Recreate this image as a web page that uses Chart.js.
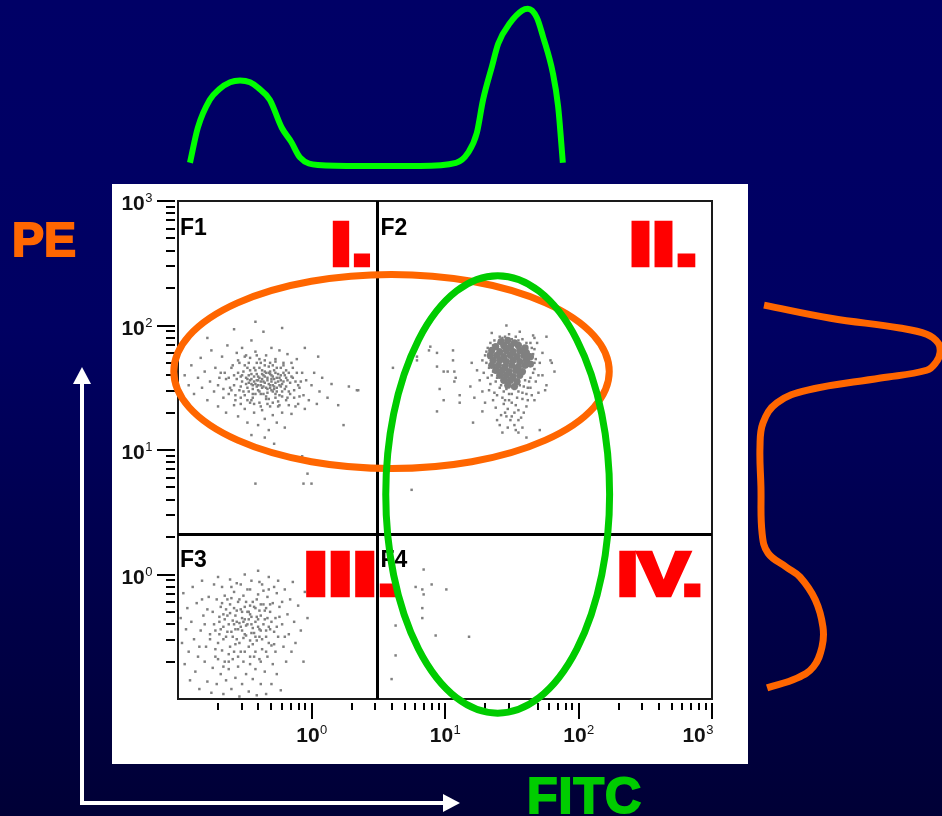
<!DOCTYPE html>
<html>
<head>
<meta charset="utf-8">
<script src="https://cdn.jsdelivr.net/npm/chart.js@4.4.1/dist/chart.umd.min.js"></script>
<style>
  html, body { margin: 0; padding: 0; }
  body {
    width: 942px; height: 816px; overflow: hidden; position: relative;
    background: linear-gradient(to bottom, #000066 0%, #000062 40%, #000036 100%);
    font-family: "Liberation Sans", Arial, sans-serif;
  }
  canvas { position: absolute; }
  #main { left: 112px; top: 184px; background: #fff; }
  #topHist { left: 178px; top: 0; }
  #sideHist { left: 750px; top: 201px; }
  .axisName { position: absolute; font-weight: bold; line-height: 1; white-space: nowrap; }
  #pe { left: 12px; top: 216px; font-size: 48px; color: #ff6600; -webkit-text-stroke: 2px #ff6600; }
  #fitc { left: 527px; top: 771px; font-size: 50px; color: #00cc00; -webkit-text-stroke: 2px #00cc00; letter-spacing: 1px; }
  svg { position: absolute; left: 0; top: 0; }
</style>
</head>
<body>
<canvas id="topHist" width="534" height="175"></canvas>
<canvas id="sideHist" width="192" height="498"></canvas>
<canvas id="main" width="636" height="580"></canvas>
<svg width="942" height="816">
  <path d="M82 382 V803 H445" stroke="#fff" stroke-width="4" fill="none"/>
  <polygon points="82,367 73,384 91,384" fill="#fff"/>
  <polygon points="460,803 443,794 443,812" fill="#fff"/>
</svg>
<div id="pe" class="axisName">PE</div>
<div id="fitc" class="axisName">FITC</div>

<script>
// scatter events, as [log10 FITC, log10 PE]
const f1Core = [[-0.55,1.62],[-0.52,1.55],[-0.50,1.68],[-0.48,1.50],[-0.47,1.60],[-0.45,1.57],[-0.44,1.45],[-0.43,1.66],[-0.42,1.53],[-0.41,1.61],[-0.40,1.48],[-0.39,1.58],[-0.38,1.55],[-0.37,1.64],[-0.36,1.51],[-0.35,1.59],[-0.34,1.43],[-0.33,1.56],[-0.32,1.67],[-0.31,1.52],[-0.30,1.60],[-0.29,1.47],[-0.28,1.57],[-0.27,1.62],[-0.26,1.50],[-0.25,1.55],[-0.24,1.44],[-0.23,1.60],[-0.22,1.53],[-0.20,1.49],[-0.19,1.58],[-0.18,1.42],[-0.16,1.54],[-0.58,1.52],[-0.57,1.44],[-0.54,1.70],[-0.51,1.47],[-0.49,1.58],[-0.46,1.64],[-0.44,1.52],[-0.41,1.70],[-0.40,1.56],[-0.38,1.45],[-0.36,1.60],[-0.35,1.68],[-0.33,1.49],[-0.31,1.63],[-0.30,1.55],[-0.28,1.51],[-0.27,1.45],[-0.26,1.66],[-0.24,1.58],[-0.22,1.47],[-0.21,1.62],[-0.45,1.40],[-0.39,1.38],[-0.32,1.41],[-0.25,1.39],[-0.62,1.58],[-0.60,1.48],[-0.53,1.59],[-0.47,1.54],[-0.43,1.59],[-0.37,1.50],[-0.34,1.62],[-0.29,1.59],[-0.23,1.51],[-0.19,1.64],[-0.17,1.47],[-0.15,1.59]];
const f1Inner = [[-0.53,1.51],[-0.51,1.63],[-0.50,1.44],[-0.49,1.53],[-0.48,1.66],[-0.47,1.47],[-0.46,1.56],[-0.45,1.61],[-0.44,1.49],[-0.43,1.55],[-0.42,1.64],[-0.42,1.45],[-0.41,1.51],[-0.40,1.59],[-0.39,1.66],[-0.39,1.47],[-0.38,1.52],[-0.37,1.57],[-0.36,1.45],[-0.36,1.55],[-0.35,1.63],[-0.34,1.50],[-0.33,1.58],[-0.33,1.46],[-0.32,1.53],[-0.31,1.61],[-0.30,1.48],[-0.30,1.57],[-0.29,1.52],[-0.28,1.64],[-0.27,1.54],[-0.26,1.47],[-0.25,1.61],[-0.24,1.52],[-0.23,1.56],[-0.22,1.43],[-0.21,1.55],[-0.20,1.60],[-0.19,1.51],[-0.18,1.56],[-0.56,1.57],[-0.54,1.48],[-0.52,1.60],[-0.47,1.70],[-0.44,1.42],[-0.38,1.70],[-0.34,1.41],[-0.29,1.68],[-0.27,1.42],[-0.23,1.66],[-0.35,1.54],[-0.41,1.56],[-0.31,1.50],[-0.45,1.53],[-0.26,1.58],[-0.48,1.57],[-0.40,1.52],[-0.32,1.62],[-0.37,1.61],[-0.28,1.49]];
const f1Mid = [[-0.70,1.52],[-0.68,1.62],[-0.66,1.49],[-0.64,1.57],[-0.62,1.45],[-0.60,1.66],[-0.58,1.60],[-0.57,1.40],[-0.55,1.72],[-0.53,1.37],[-0.50,1.75],[-0.48,1.40],[-0.46,1.74],[-0.43,1.37],[-0.41,1.76],[-0.38,1.35],[-0.35,1.72],[-0.33,1.37],[-0.31,1.70],[-0.29,1.38],[-0.27,1.71],[-0.24,1.36],[-0.21,1.68],[-0.19,1.40],[-0.17,1.62],[-0.16,1.45],[-0.14,1.58],[-0.13,1.48],[-0.11,1.62],[-0.09,1.43],[-0.08,1.55],[-0.10,1.52],[-0.12,1.35],[-0.15,1.70]];
const f1Sparse = [[-0.95,1.60],[-0.92,1.52],[-0.90,1.68],[-0.88,1.45],[-0.85,1.58],[-0.83,1.74],[-0.82,1.50],[-0.80,1.63],[-0.78,1.40],[-0.76,1.55],[-0.75,1.80],[-0.73,1.47],[-0.72,1.66],[-0.70,1.35],[-0.69,1.58],[-0.67,1.75],[-0.66,1.42],[-0.65,1.62],[-0.64,1.30],[-0.63,1.84],[-0.61,1.50],[-0.59,1.68],[-0.58,1.36],[-0.56,1.78],[-0.55,1.27],[-0.53,1.42],[-0.52,1.82],[-0.50,1.33],[-0.49,1.76],[-0.48,1.22],[-0.46,1.38],[-0.45,1.88],[-0.43,1.30],[-0.42,1.79],[-0.40,1.20],[-0.39,1.73],[-0.37,1.32],[-0.36,1.95],[-0.35,1.25],[-0.34,1.76],[-0.32,1.16],[-0.31,1.35],[-0.30,1.82],[-0.29,1.28],[-0.27,1.73],[-0.26,1.22],[-0.25,1.35],[-0.24,1.80],[-0.22,1.30],[-0.21,1.70],[-0.20,1.18],[-0.18,1.77],[-0.17,1.36],[-0.15,1.29],[-0.14,1.66],[-0.13,1.42],[-0.12,1.55],[-0.11,1.73],[-0.10,1.37],[-0.09,1.50],[-0.07,1.62],[-0.06,1.44],[-0.05,1.33],[-0.04,1.56],[-0.02,1.40],[0.00,1.52],[0.02,1.62],[0.04,1.37],[0.06,1.47],[0.08,1.58],[0.12,1.42],[0.15,1.53],[0.20,1.36],[0.28,1.51],[0.34,1.48],[-0.58,1.97],[-0.42,2.03],[-0.22,1.98],[-0.05,1.82],[0.05,1.75],[-0.78,1.90],[-0.35,1.10],[-0.28,1.05],[-0.45,1.12],[-0.42,0.73],[-0.06,0.73],[0.00,0.73],[-0.03,0.81],[-0.07,0.95],[0.24,1.20],[0.35,1.48]];
const f2Core = [[1.42,1.87],[1.47,1.88],[1.52,1.86],[1.38,1.83],[1.44,1.84],[1.49,1.83],[1.55,1.84],[1.60,1.82],[1.35,1.80],[1.41,1.79],[1.46,1.80],[1.51,1.79],[1.56,1.80],[1.61,1.78],[1.34,1.76],[1.39,1.76],[1.44,1.75],[1.49,1.76],[1.54,1.75],[1.59,1.76],[1.64,1.75],[1.36,1.72],[1.41,1.72],[1.46,1.71],[1.51,1.72],[1.56,1.71],[1.61,1.72],[1.35,1.68],[1.40,1.68],[1.45,1.67],[1.50,1.68],[1.55,1.67],[1.60,1.68],[1.64,1.69],[1.38,1.64],[1.43,1.64],[1.48,1.63],[1.53,1.64],[1.58,1.63],[1.41,1.60],[1.46,1.60],[1.51,1.59],[1.56,1.60],[1.44,1.56],[1.49,1.56],[1.54,1.55],[1.47,1.52],[1.52,1.51]];
const f2Ring = [[1.33,1.74],[1.31,1.79],[1.36,1.84],[1.40,1.86],[1.45,1.91],[1.50,1.89],[1.55,1.88],[1.61,1.86],[1.65,1.82],[1.66,1.77],[1.67,1.70],[1.66,1.62],[1.63,1.55],[1.59,1.51],[1.55,1.47],[1.50,1.45],[1.46,1.49],[1.42,1.52],[1.39,1.58],[1.36,1.63],[1.32,1.58],[1.33,1.48],[1.37,1.46],[1.43,1.42],[1.48,1.40],[1.53,1.36],[1.58,1.41],[1.61,1.45],[1.64,1.50],[1.68,1.55],[1.45,1.30],[1.50,1.27],[1.55,1.24],[1.59,1.30],[1.42,1.28],[1.38,1.34],[1.47,1.18],[1.53,1.16]];
const f2Sparse = [[1.46,2.00],[1.35,1.94],[1.76,1.91],[1.67,1.90],[1.80,1.70],[1.82,1.63],[1.73,1.60],[1.76,1.52],[1.70,1.46],[1.67,1.40],[1.61,1.35],[1.55,1.32],[1.46,1.27],[1.41,1.20],[1.52,1.20],[1.58,1.18],[1.61,1.10],[1.43,1.14],[1.39,1.24],[1.28,1.31],[1.30,1.38],[1.28,1.47],[1.26,1.56],[1.28,1.72],[1.20,1.70],[1.24,1.64],[1.22,1.42],[1.19,1.51],[1.11,1.44],[1.11,1.38],[0.99,1.40],[0.96,1.49],[1.07,1.55],[1.07,1.63],[1.02,1.63],[0.99,1.63],[1.06,1.72],[1.06,1.80],[0.94,1.78],[0.94,1.67],[0.89,1.83],[0.79,1.75],[0.79,1.72],[0.94,1.31],[1.21,1.22],[1.71,1.16],[1.55,1.14],[1.66,1.92],[1.41,1.91],[1.56,1.95],[1.73,1.78],[1.79,1.72],[1.75,1.48],[1.32,1.82],[1.30,1.76],[1.33,1.66],[1.35,1.60],[1.38,1.55],[1.41,1.50],[1.44,1.47],[1.48,1.45],[1.52,1.49],[1.56,1.52],[1.60,1.56],[1.64,1.58],[1.67,1.65],[1.68,1.73],[1.67,1.81],[1.64,1.86],[1.58,1.89],[1.53,1.91],[1.48,1.93],[1.43,1.90],[1.37,1.88],[1.34,1.86],[1.31,1.70],[1.29,1.62],[1.34,1.53],[1.39,1.44],[1.45,1.40],[1.50,1.38],[1.54,1.42],[1.58,1.46],[1.62,1.50],[1.65,1.44],[1.47,1.33],[1.52,1.30],[1.49,1.24],[1.57,1.26],[1.44,1.37],[1.36,1.40],[1.62,1.40],[1.70,1.60],[1.71,1.70],[1.69,1.86],[0.61,1.66],[0.88,1.80],[1.08,1.58]];
const f3Dense = [[-0.74,-0.30],[-0.72,-0.45],[-0.71,-0.20],[-0.70,-0.55],[-0.69,-0.38],[-0.68,-0.26],[-0.67,-0.61],[-0.66,-0.42],[-0.65,-0.17],[-0.64,-0.50],[-0.63,-0.33],[-0.62,-0.64],[-0.61,-0.24],[-0.60,-0.46],[-0.59,-0.37],[-0.58,-0.14],[-0.57,-0.56],[-0.56,-0.29],[-0.55,-0.44],[-0.54,-0.20],[-0.53,-0.62],[-0.52,-0.35],[-0.51,-0.51],[-0.50,-0.26],[-0.49,-0.41],[-0.48,-0.12],[-0.47,-0.58],[-0.46,-0.32],[-0.45,-0.47],[-0.44,-0.22],[-0.43,-0.66],[-0.42,-0.38],[-0.41,-0.53],[-0.40,-0.16],[-0.39,-0.29],[-0.38,-0.45],[-0.37,-0.60],[-0.36,-0.24],[-0.35,-0.36],[-0.34,-0.50],[-0.33,-0.18],[-0.32,-0.42],[-0.31,-0.30],[-0.30,-0.57],[-0.29,-0.23],[-0.28,-0.46],[-0.27,-0.35],[-0.26,-0.15],[-0.73,-0.40],[-0.69,-0.48],[-0.66,-0.32],[-0.63,-0.20],[-0.61,-0.58],[-0.58,-0.40],[-0.56,-0.52],[-0.53,-0.28],[-0.51,-0.17],[-0.49,-0.49],[-0.47,-0.36],[-0.44,-0.56],[-0.42,-0.27],[-0.40,-0.42],[-0.38,-0.33],[-0.36,-0.13],[-0.34,-0.27],[-0.31,-0.44],[-0.57,-0.33],[-0.54,-0.39],[-0.52,-0.45],[-0.48,-0.30],[-0.45,-0.40],[-0.43,-0.47],[-0.41,-0.34],[-0.39,-0.50],[-0.46,-0.25],[-0.50,-0.36]];
const f3Inner = [[-0.69,-0.34],[-0.68,-0.44],[-0.67,-0.23],[-0.66,-0.52],[-0.65,-0.36],[-0.64,-0.28],[-0.63,-0.46],[-0.62,-0.40],[-0.61,-0.31],[-0.60,-0.19],[-0.59,-0.50],[-0.58,-0.27],[-0.57,-0.44],[-0.56,-0.38],[-0.55,-0.22],[-0.54,-0.55],[-0.53,-0.42],[-0.52,-0.30],[-0.51,-0.38],[-0.50,-0.48],[-0.49,-0.22],[-0.48,-0.40],[-0.47,-0.30],[-0.46,-0.53],[-0.45,-0.34],[-0.44,-0.43],[-0.43,-0.26],[-0.42,-0.50],[-0.41,-0.20],[-0.40,-0.36],[-0.39,-0.44],[-0.38,-0.24],[-0.37,-0.52],[-0.36,-0.40],[-0.35,-0.29],[-0.34,-0.45],[-0.33,-0.35],[-0.32,-0.55],[-0.31,-0.24],[-0.30,-0.38],[-0.72,-0.60],[-0.70,-0.68],[-0.66,-0.74],[-0.62,-0.70],[-0.58,-0.62],[-0.55,-0.66],[-0.50,-0.62],[-0.46,-0.66],[-0.42,-0.62],[-0.38,-0.70],[-0.34,-0.62],[-0.80,-0.40],[-0.78,-0.28],[-0.76,-0.52],[-0.84,-0.58],[-0.82,-0.20],[-0.26,-0.42],[-0.24,-0.34],[-0.22,-0.22],[-0.20,-0.50],[-0.28,-0.56],[-0.60,-0.10],[-0.53,-0.08],[-0.46,-0.12],[-0.39,-0.06],[-0.32,-0.12],[-0.25,-0.05]];
const f3Sparse = [[-0.98,-0.35],[-0.97,-0.55],[-0.96,-0.15],[-0.95,-0.72],[-0.94,-0.44],[-0.93,-0.27],[-0.92,-0.62],[-0.91,-0.85],[-0.90,-0.38],[-0.89,-0.10],[-0.88,-0.52],[-0.87,-0.78],[-0.86,-0.23],[-0.85,-0.66],[-0.84,-0.92],[-0.83,-0.45],[-0.82,-0.05],[-0.81,-0.33],[-0.80,-0.70],[-0.79,-0.58],[-0.78,-0.86],[-0.77,-0.18],[-0.76,-0.48],[-0.75,-0.95],[-0.74,-0.75],[-0.73,-0.08],[-0.72,-0.66],[-0.71,-0.88],[-0.70,-0.02],[-0.68,-0.80],[-0.67,-0.10],[-0.66,-0.96],[-0.65,-0.70],[-0.64,-0.85],[-0.62,-0.76],[-0.61,-0.04],[-0.60,-0.92],[-0.59,-0.68],[-0.57,-0.83],[-0.56,-0.07],[-0.55,-0.74],[-0.54,-0.98],[-0.52,-0.88],[-0.51,-0.70],[-0.50,0.00],[-0.49,-0.80],[-0.47,-0.94],[-0.46,-0.72],[-0.45,-0.05],[-0.44,-0.84],[-0.42,-0.76],[-0.41,-0.97],[-0.40,0.03],[-0.39,-0.68],[-0.38,-0.88],[-0.37,-0.08],[-0.35,-0.78],[-0.34,-0.96],[-0.33,-0.66],[-0.32,-0.02],[-0.30,-0.88],[-0.29,-0.72],[-0.28,-0.10],[-0.27,-0.62],[-0.26,-0.80],[-0.25,-0.50],[-0.24,-0.26],[-0.23,-0.93],[-0.22,-0.40],[-0.21,-0.58],[-0.20,-0.12],[-0.19,-0.70],[-0.18,-0.32],[-0.17,-0.48],[-0.16,-0.20],[-0.15,-0.62],[-0.14,-0.06],[-0.13,-0.38],[-0.12,-0.55],[-0.10,-0.25],[-0.08,-0.45],[-0.06,-0.70],[-0.05,-0.14],[-0.03,-0.35]];
const f4Sparse = [[0.84,0.04],[0.78,-0.10],[0.83,-0.12],[0.90,-0.08],[0.84,-0.16],[1.01,-0.12],[0.83,-0.27],[0.83,-0.35],[0.63,-0.41],[0.93,-0.49],[1.18,-0.50],[0.63,-0.65],[0.60,-0.84],[0.75,0.68]];

// axis range, quadrant markers and gates (FITC, PE values)
const axisMin = 0.1, axisMax = 1000;
const labelledDecades = [1, 10, 100, 1000];
const quadFITC = 3.1, quadPE = 2.1;
const quadNames = ['F1', 'F2', 'F3', 'F4'];
const regionNames = ['I.', 'II.', 'III.', 'IV.'];
const orangeGate = { fitc: [0.093, 170], pe: [7.1, 257] };
const greenGate = { fitc: [3.6, 171], pe: [0.077, 251] };

// single-parameter histograms (channel 0-1023 over 4 decades, relative count)
const fitcHistChannel = [23, 38, 61, 79, 100, 119, 138, 153, 176, 199, 217, 234, 268, 349, 464, 533, 556, 573, 585, 602, 614, 637, 660, 671, 688, 700, 719, 729, 738];
const fitcHistCount = [7, 27, 43, 49, 53, 54, 53, 50, 43, 27, 19, 10, 5.7, 5.1, 5.1, 6.9, 12.6, 24, 43, 62, 75, 87, 94, 95, 90, 79, 58, 39, 7];
const peHistChannel = [810, 783, 763, 750, 732, 713, 693, 676, 660, 635, 609, 568, 518, 436, 341, 300, 271, 251, 204, 148, 107, 66, 43, 23];
const peHistCount = [7.3, 42, 78, 92, 98, 99, 97, 92, 68, 30, 14, 6.8, 5.2, 5.7, 6.3, 9.4, 19, 26, 34, 38, 37.5, 33, 24.5, 8.9];

const toPoints = arr => arr.map(([lx, ly]) => ({ x: 10 ** lx, y: 10 ** ly }));
const dotGrey = '#808080';

function sparseSet(arr) {
  return { data: toPoints(arr), pointStyle: 'rect', pointRadius: 1.75, borderWidth: 0, backgroundColor: dotGrey };
}

function drawPower(ctx, exp, x, y, align) {
  ctx.font = 'bold 21px "Liberation Sans", Arial, sans-serif';
  const wBase = ctx.measureText('10').width;
  ctx.font = '13px "Liberation Sans", Arial, sans-serif';
  const wSup = ctx.measureText(String(exp)).width;
  const total = wBase + wSup;
  let left = x - total / 2;
  if (align === 'right') left = x - total;
  ctx.fillStyle = '#111';
  ctx.font = 'bold 21px "Liberation Sans", Arial, sans-serif';
  ctx.fillText('10', left, y);
  ctx.font = '13px "Liberation Sans", Arial, sans-serif';
  ctx.fillText(String(exp), left + wBase + 0.5, y - 8);
}

// heavy red numeral, squeezed or stretched to a given advance width
function redLabel(ctx, text, left, base, width) {
  ctx.save();
  ctx.font = 'bold 62px "Liberation Sans", Arial, sans-serif';
  const sx = width / ctx.measureText(text).width;
  ctx.translate(left, base);
  ctx.scale(sx, 1);
  ctx.fillStyle = '#ff0000';
  ctx.strokeStyle = '#ff0000';
  ctx.lineWidth = 4.5;
  ctx.lineJoin = 'miter';
  ctx.fillText(text, 0, 0);
  ctx.strokeText(text, 0, 0);
  ctx.restore();
}

function gateEllipse(ctx, xs, ys, gate, color) {
  const x1 = xs.getPixelForValue(gate.fitc[0]), x2 = xs.getPixelForValue(gate.fitc[1]);
  const y1 = ys.getPixelForValue(gate.pe[1]), y2 = ys.getPixelForValue(gate.pe[0]);
  ctx.beginPath();
  ctx.ellipse((x1 + x2) / 2, (y1 + y2) / 2, (x2 - x1) / 2, (y2 - y1) / 2, 0, 0, Math.PI * 2);
  ctx.strokeStyle = color;
  ctx.lineWidth = 7;
  ctx.stroke();
}

const plotDecor = {
  id: 'plotDecor',
  afterDatasetsDraw(chart) {
    const { ctx, chartArea: a, scales: { x, y } } = chart;
    ctx.save();
    // frame
    ctx.strokeStyle = '#1a1a1a';
    ctx.lineWidth = 2;
    ctx.strokeRect(a.left, a.top, a.right - a.left, a.bottom - a.top);

    // quadrant lines
    const qx = Math.round(x.getPixelForValue(quadFITC)) + 0.5;
    const qy = Math.round(y.getPixelForValue(quadPE)) + 0.5;
    ctx.strokeStyle = '#000';
    ctx.lineWidth = 3;
    ctx.beginPath();
    ctx.moveTo(qx, a.top); ctx.lineTo(qx, a.bottom);
    ctx.moveTo(a.left, qy); ctx.lineTo(a.right, qy);
    ctx.stroke();

    // log ticks
    ctx.lineWidth = 2;
    ctx.strokeStyle = '#000';
    ctx.beginPath();
    for (let d = axisMin; d < axisMax * 0.99; d *= 10) {
      for (let m = 2; m <= 10; m++) {
        const v = d * m;
        const major = m === 10;
        const px = Math.round(x.getPixelForValue(v));
        ctx.moveTo(px, a.bottom + 4);
        ctx.lineTo(px, a.bottom + (major ? 20 : 11));
        const py = Math.round(y.getPixelForValue(v));
        ctx.moveTo(a.left - (major ? 21 : 12), py);
        ctx.lineTo(a.left - 3, py);
      }
    }
    ctx.stroke();

    // decade labels
    labelledDecades.forEach((v, i) => {
      const exp = Math.round(Math.log10(v));
      const px = x.getPixelForValue(v);
      const last = i === labelledDecades.length - 1;
      drawPower(ctx, exp, last ? px + 1 : px, a.bottom + 43, last ? 'right' : 'center');
      const py = y.getPixelForValue(v);
      drawPower(ctx, exp, a.left - 26, py + 9, 'right');
    });

    // quadrant names
    ctx.fillStyle = '#000';
    ctx.font = 'bold 23px "Liberation Sans", Arial, sans-serif';
    ctx.fillText(quadNames[0], a.left + 2, a.top + 34);
    ctx.fillText(quadNames[1], qx + 3, a.top + 34);
    ctx.fillText(quadNames[2], a.left + 2, qy + 32);
    ctx.fillText(quadNames[3], qx + 3, qy + 32);

    // region numerals
    redLabel(ctx, regionNames[0], qx - 47, a.top + 64, 42);
    redLabel(ctx, regionNames[1], a.right - 83, a.top + 64, 69);
    redLabel(ctx, regionNames[2], qx - 74, qy + 60, 98);
    redLabel(ctx, regionNames[3], a.right - 95, qy + 60, 86);

    // gates
    gateEllipse(ctx, x, y, orangeGate, '#ff6600');
    gateEllipse(ctx, x, y, greenGate, '#00cc00');
    ctx.restore();
  }
};

new Chart(document.getElementById('main'), {
  type: 'scatter',
  data: {
    datasets: [
      sparseSet(f1Sparse),
      sparseSet(f1Mid),
      sparseSet(f1Core),
      sparseSet(f1Inner),
      sparseSet(f3Sparse),
      sparseSet(f3Dense),
      sparseSet(f3Inner),
      sparseSet(f4Sparse),
      sparseSet(f2Sparse),
      sparseSet(f2Ring),
      { data: toPoints(f2Core), pointStyle: 'circle', pointRadius: 3.6, borderWidth: 0, backgroundColor: dotGrey }
    ]
  },
  options: {
    responsive: false,
    animation: false,
    events: [],
    layout: { padding: { left: 66, right: 36, top: 17, bottom: 65 } },
    plugins: { legend: { display: false }, tooltip: { enabled: false } },
    scales: {
      x: { type: 'logarithmic', min: axisMin, max: axisMax, display: false },
      y: { type: 'logarithmic', min: axisMin, max: axisMax, display: false }
    }
  },
  plugins: [plotDecor]
});

// FITC histogram above the plot
new Chart(document.getElementById('topHist'), {
  type: 'line',
  data: {
    datasets: [{
      data: fitcHistChannel.map((c, i) => ({ x: c, y: fitcHistCount[i] })),
      borderColor: '#00ff00',
      borderWidth: 6,
      pointRadius: 0,
      cubicInterpolationMode: 'monotone',
      fill: false
    }]
  },
  options: {
    responsive: false,
    animation: false,
    events: [],
    layout: { padding: 0 },
    plugins: { legend: { display: false }, tooltip: { enabled: false } },
    scales: {
      x: { type: 'linear', min: 0, max: 1024, display: false },
      y: { type: 'linear', min: 0, max: 100, display: false }
    }
  }
});

// PE histogram to the right, drawn sideways
new Chart(document.getElementById('sideHist'), {
  type: 'line',
  data: {
    datasets: [{
      data: peHistChannel.map((c, i) => ({ x: peHistCount[i], y: c })),
      borderColor: '#ff6600',
      borderWidth: 7,
      pointRadius: 0,
      tension: 0.4,
      fill: false
    }]
  },
  options: {
    indexAxis: 'y',
    responsive: false,
    animation: false,
    events: [],
    layout: { padding: 0 },
    plugins: { legend: { display: false }, tooltip: { enabled: false } },
    scales: {
      x: { type: 'linear', min: 0, max: 100, display: false },
      y: { type: 'linear', min: 0, max: 1024, display: false }
    }
  }
});
</script>
</body>
</html>
